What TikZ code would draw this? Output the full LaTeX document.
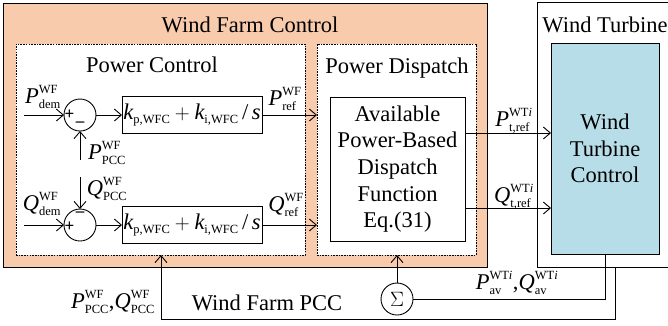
\documentclass[tikz,border=0pt]{standalone}
\usepackage{fontspec}
\setmainfont{Liberation Serif}
\usepackage{amsmath}
\usetikzlibrary{arrows.meta, positioning}
\definecolor{peach}{HTML}{F8CBAD}
\definecolor{iceblue}{HTML}{B7DDE8}
\DeclareMathSizes{22.5}{22.5}{12.5}{10}
\newcommand{\sig}[3]{$\textit{#1}^{\text{#2}}_{\text{#3}}$}
\newcommand{\gain}{$\textit{k}_{\text{p,WFC}}+\textit{k}_{\text{i,WFC}}\,\text{/}\,\textit{s}$}
\begin{document}
\begin{tikzpicture}[x=1pt, y=-1pt, line width=0.9pt,
      font=\fontsize{22.5}{26.7}\selectfont,
      panel/.style={draw, anchor=north west, inner sep=0pt, outer sep=0pt,
                    align=center},
      zone/.style={panel, fill=white, line width=0.7pt,
                   dash pattern=on 1.6pt off 1.1pt},
      blk/.style={draw, fill=white, inner sep=0pt, outer sep=0pt,
                  minimum width=140, minimum height=37},
      sumc/.style={draw, circle, fill=white, minimum size=32,
                   inner sep=0pt, outer sep=0pt},
      sgn/.style={inner sep=0pt, font=\fontsize{17}{17}\bfseries},
      lbl/.style={inner sep=0pt},
      a/.style={-{Straight Barb[length=7pt, width=12pt]}}]
    \useasboundingbox (0,0) rectangle (668,325);
    \node[panel, fill=peach, minimum width=484, minimum height=264] (wfc) at (3,3) {};
    \node[panel, minimum width=134, minimum height=265] (wt) at (537,2) {};
    \node[lbl, anchor=base] (twfc) at (250,32) {Wind Farm Control};
    \node[lbl, anchor=base] (twt) at (605,32) {Wind Turbine};
    \node[zone, minimum width=289, minimum height=211] (pc) at (16,44) {};
    \node[zone, minimum width=159, minimum height=211] (pd) at (317,44) {};
    \node[lbl, anchor=base] (tpc) at (152,72) {Power Control};
    \node[lbl, anchor=base] (tpd) at (397,73) {Power Dispatch};
    \node[panel, fill=iceblue, minimum width=108, minimum height=211] (wtc)
      at (551,43) {Wind\\Turbine\\Control};
    \node[panel, fill=white, minimum width=135, minimum height=144] (alg)
      at (330,97) {Available\\Power-Based\\Dispatch\\Function\\Eq.(31)};
    \node[sumc] (sp) at (80,115) {};
    \node[sumc] (sq) at (80,225) {};
    \node[sumc] (sig) at (397,299) {$\Sigma$};
    \node[sgn] at (69.5,115) {+};
    \node[sgn] at (80,124) {--};
    \node[sgn] at (69.5,227) {+};
    \node[sgn] at (80,214) {--};
    \node[blk] (bp) at (192,115) {\gain};
    \node[blk] (bq) at (192,225) {\gain};
    \coordinate (pin) at (24,115);
    \coordinate (qin) at (24,225);
    \coordinate (ppcc) at (80,160);
    \coordinate (qpcc) at (80,177);
    \coordinate (pto) at (465,133);
    \coordinate (qto) at (465,208);
    \coordinate (wtb) at (615,267);
    \coordinate (fb) at (161,319);
    \draw[a] (pin) -- (sp);
    \draw[a] (sp) -- (bp);
    \draw[a] (bp) -- (pd.west |- bp);
    \draw[a] (ppcc) -- (sp);
    \draw[a] (qin) -- (sq);
    \draw[a] (qpcc) -- (sq);
    \draw[a] (sq) -- (bq);
    \draw[a] (bq) -- (pd.west |- bq);
    \draw[a] (pto) -- (wtc.west |- pto);
    \draw[a] (qto) -- (wtc.west |- qto);
    \draw[a] (sig) -- (sig |- pd.south);
    \draw (wtc.south) |- (sig);
    \draw[a] (wtb) |- (fb) -- (fb |- pc.south);
    \node[lbl] (lpd) at (43,97) {\sig{P}{WF}{dem}};
    \node[lbl] (lqd) at (42,204) {\sig{Q}{WF}{dem}};
    \node[lbl] (lpp) at (107,153) {\sig{P}{WF}{PCC}};
    \node[lbl] (lqp) at (107,189) {\sig{Q}{WF}{PCC}};
    \node[lbl] (lpr) at (285,99) {\sig{P}{WF}{ref}};
    \node[lbl] (lqr) at (286,205) {\sig{Q}{WF}{ref}};
    \node[lbl] (lpt) at (514,121) {\sig{P}{WT\textit{i}}{t,ref}};
    \node[lbl] (lqt) at (514,197) {\sig{Q}{WT\textit{i}}{t,ref}};
    \node[lbl] (lav) at (517,283) {\sig{P}{WT\textit{i}}{av},\sig{Q}{WT\textit{i}}{av}};
    \node[lbl] (lpq) at (113,302) {\sig{P}{WF}{PCC},\sig{Q}{WF}{PCC}};
    \node[lbl] (tpcc) at (267,303) {Wind Farm PCC};
  \end{tikzpicture}
\end{document}
